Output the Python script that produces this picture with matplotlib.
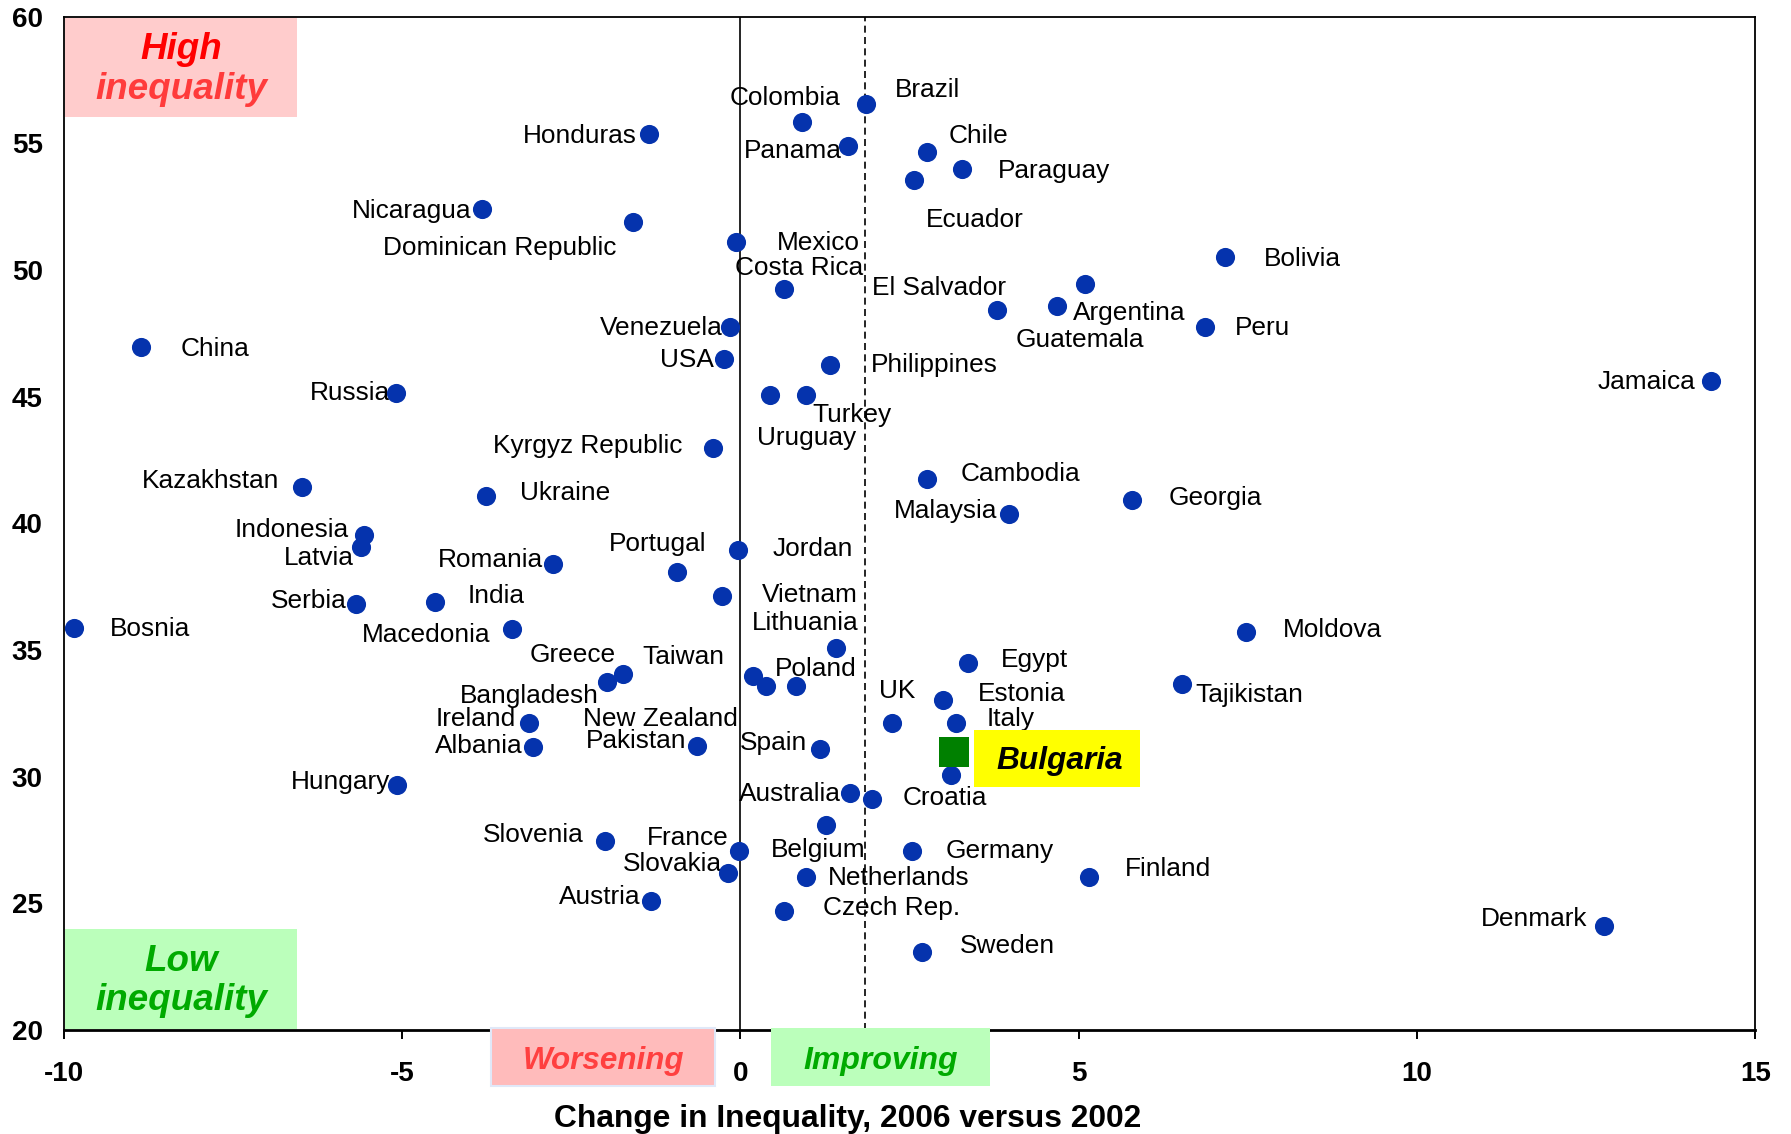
import matplotlib
matplotlib.use("Agg")
import matplotlib.pyplot as plt
import matplotlib.transforms as mtransforms
from matplotlib.patches import Rectangle

# ---------------- data ----------------
countries = [
    "Colombia", "Brazil", "Honduras", "Panama", "Chile", "Paraguay", "Ecuador",
    "Nicaragua", "Dominican Republic", "Mexico", "Bolivia", "Costa Rica",
    "Guatemala", "Argentina", "El Salvador", "Peru", "Venezuela", "China", "USA",
    "Philippines", "Jamaica", "Russia", "Uruguay", "Turkey", "Kyrgyz Republic",
    "Cambodia", "Kazakhstan", "Ukraine", "Georgia", "Malaysia", "Indonesia",
    "Latvia", "Jordan", "Romania", "Portugal", "Vietnam", "India", "Serbia",
    "Bosnia", "Macedonia", "Moldova", "Lithuania", "Egypt", "Greece",
    "Bangladesh", "Taiwan", "New Zealand", "Poland", "Tajikistan", "Estonia",
    "UK", "Italy", "Ireland", "Albania", "Pakistan", "Spain", "Bulgaria",
    "Hungary", "Australia", "Croatia", "Belgium", "Slovenia", "France",
    "Germany", "Slovakia", "Netherlands", "Finland", "Austria", "Czech Rep.",
    "Denmark", "Sweden",
]
change = [
    0.91, 1.85, -1.35, 1.59, 2.76, 3.27, 2.56,
    -3.82, -1.59, -0.06, 7.16, 0.65,
    5.09, 4.68, 3.80, 6.86, -0.15, -8.86, -0.24,
    1.32, 14.34, -5.09, 0.44, 0.97, -0.41,
    2.76, -6.48, -3.76, 5.79, 3.97, -5.56,
    -5.60, -0.03, -2.77, -0.94, -0.27, -4.51, -5.68,
    -9.84, -3.37, 7.47, 1.41, 3.36, -1.74,
    -1.97, 0.18, 0.38, 0.82, 6.53, 3.00,
    2.24, 3.18, -3.12, -3.06, -0.64, 1.18, 3.12,
    -5.07, 1.62, 1.94, 1.27, -2.00, -0.02,
    2.53, -0.18, 0.97, 5.15, -1.32, 0.65,
    12.77, 2.68,
]
gini = [
    55.84, 56.55, 55.37, 54.89, 54.67, 53.97, 53.55,
    52.39, 51.90, 51.12, 50.51, 49.24,
    49.44, 48.57, 48.42, 47.76, 47.76, 46.96, 46.49,
    46.26, 45.61, 45.15, 45.08, 45.08, 42.96,
    41.76, 41.45, 41.08, 40.90, 40.36, 39.53,
    39.07, 38.95, 38.39, 38.08, 37.12, 36.89, 36.82,
    35.88, 35.81, 35.71, 35.09, 34.47, 34.06,
    33.74, 33.98, 33.58, 33.59, 33.65, 33.03,
    32.11, 32.11, 32.11, 31.16, 31.22, 31.08, 30.06,
    29.67, 29.34, 29.12, 28.10, 27.46, 27.08,
    27.07, 26.20, 26.05, 26.04, 25.10, 24.71,
    24.09, 23.07,
]
highlight_name = "Bulgaria"
highlight_change = [3.16]
highlight_gini = [30.98]
average_change = 1.84
x_ticks = [-10, -5, 0, 5, 10, 15]
y_ticks = [20, 25, 30, 35, 40, 45, 50, 55, 60]
x_title = "Change in Inequality, 2006 versus 2002"

# ---------------- layout (label offsets in pixels: ha, dx, dy-down) ----------------
LABEL_LAYOUT = {
    "Colombia": ("center", -17.3, -27), "Brazil": ("left", 29.3, -17.3),
    "Honduras": ("right", -12, -0.7), "Panama": ("right", -6.3, 2.3),
    "Chile": ("left", 21.3, -18.5), "Paraguay": ("left", 36.7, -1.1),
    "Ecuador": ("left", 12.8, 37.5), "Nicaragua": ("right", -10, -1.4),
    "Dominican Republic": ("right", -16.3, 23.3), "Mexico": ("left", 40.3, -1.7),
    "Bolivia": ("left", 38.9, -1), "Costa Rica": ("center", 14.8, -23.6),
    "Guatemala": ("center", -4.9, 53.3), "Argentina": ("left", 16.3, 3.7),
    "El Salvador": ("right", 8.9, -25), "Peru": ("left", 30.8, -1.1),
    "Venezuela": ("right", -7.6, -1.7), "China": ("left", 40.2, -1.1),
    "USA": ("right", -10.3, -1.3), "Philippines": ("left", 41, -3),
    "Jamaica": ("right", -15.7, -1.9), "Russia": ("right", -5.7, -2.6),
    "Uruguay": ("left", -13.3, 40.3), "Turkey": ("left", 6.7, 18),
    "Kyrgyz Republic": ("right", -30.6, -5), "Cambodia": ("left", 33.7, -7.4),
    "Kazakhstan": ("right", -23, -8.1), "Ukraine": ("left", 34, -5.3),
    "Georgia": ("left", 36.6, -4.9), "Malaysia": ("right", -11.6, -6.2),
    "Indonesia": ("right", -15, -8.1), "Latvia": ("right", -7.5, 8.2),
    "Jordan": ("left", 34.4, -3.3), "Romania": ("right", -9.7, -6.7),
    "Portugal": ("center", -19.4, -30.3), "Vietnam": ("left", 39.4, -3.6),
    "India": ("left", 32.8, -8.4), "Serbia": ("right", -9.7, -5.5),
    "Bosnia": ("left", 35.6, -1.8), "Macedonia": ("right", -21.8, 2.6),
    "Moldova": ("left", 37.2, -4.4), "Lithuania": ("center", -30.8, -27.7),
    "Egypt": ("left", 32.7, -6.6), "Greece": ("right", -6.7, -22),
    "Bangladesh": ("right", -8.7, 11.3), "Taiwan": ("right", -28, -21.7),
    "New Zealand": ("right", -28.6, 30), "Poland": ("center", 19.5, -19.7),
    "Tajikistan": ("left", 13.3, 8.4), "Estonia": ("left", 34.4, -8.3),
    "UK": ("center", 5, -35), "Italy": ("left", 31.4, -6.6),
    "Ireland": ("right", -13, -7.1), "Albania": ("right", -10.2, -3.7),
    "Pakistan": ("right", -10.7, -7.4), "Spain": ("right", -12.7, -8.6),
    "Hungary": ("right", -6.8, -5.5), "Australia": ("right", -9, -2.6),
    "Croatia": ("left", 31, -4), "Belgium": ("center", -8, 22),
    "Slovenia": ("right", -21, -9.3), "France": ("right", -10.4, -15.7),
    "Germany": ("left", 34.3, -2.4), "Slovakia": ("right", -6.6, -11.3),
    "Netherlands": ("left", 22.3, -1.7), "Finland": ("left", 36, -10.3),
    "Austria": ("right", -10.7, -6.4), "Czech Rep.": ("left", 38.7, -5.7),
    "Denmark": ("right", -17.5, -10.6), "Sweden": ("left", 37.7, -8.8),
}
TEXT_SHIFT = 2.8  # px: matplotlib 'center' sits slightly higher than visual centre

W, H, DPI = 1791, 1134, 100
PX = 72.0 / DPI  # pixels -> points

plt.rcParams["font.family"] = ["Liberation Sans", "DejaVu Sans"]

fig = plt.figure(figsize=(W / DPI, H / DPI), dpi=DPI)
fig.patch.set_facecolor("white")
x0, x1, ytop, ybot = 63.6, 1755.4, 16.6, 1030.0
ax = fig.add_axes([x0 / W, 1 - ybot / H, (x1 - x0) / W, (ybot - ytop) / H])
ax.set_xlim(x_ticks[0], x_ticks[-1])
ax.set_ylim(y_ticks[0], y_ticks[-1])
ax.set_xticks(x_ticks)
ax.set_yticks(y_ticks)
ax.set_xticklabels([str(t) for t in x_ticks], fontsize=20, fontweight="bold")
ax.set_yticklabels([str(t) for t in y_ticks], fontsize=20, fontweight="bold")
ax.tick_params(axis="y", length=0, pad=15)
ax.tick_params(axis="x", length=6.5, width=1.4, direction="out", pad=16)
for side in ("top", "left", "right"):
    ax.spines[side].set_linewidth(1.3)
ax.spines["bottom"].set_linewidth(2.0)

# reference lines
ax.axvline(0, color="black", lw=1.2, zorder=1)
ax.axvline(average_change, color="black", lw=1.2, linestyle=(0, (4.2, 2.6)), zorder=1)

# points
ax.scatter(change, gini, s=190, c="#0533AD", linewidths=0, zorder=4)

for name, x, y in zip(countries, change, gini):
    if name not in LABEL_LAYOUT:
        continue
    ha, dx, dy = LABEL_LAYOUT[name]
    ax.annotate(name, (x, y), xytext=(dx * PX, -(dy + TEXT_SHIFT) * PX),
                textcoords="offset points", ha=ha, va="center", fontsize=18.9,
                color="black", zorder=3)

# highlighted country
ax.scatter(highlight_change, highlight_gini, marker="s", s=(30 * PX) ** 2,
           c="#008000", linewidths=0, zorder=5)
hx, hy = highlight_change[0], highlight_gini[0]
trans = mtransforms.Affine2D().scale(DPI / 72.0) + mtransforms.ScaledTranslation(hx, hy, ax.transData)
ax.add_patch(Rectangle((20 * PX, -35 * PX), 166 * PX, 56.7 * PX, transform=trans,
                       facecolor="#FFFF00", edgecolor="none", zorder=5, clip_on=False))
ax.annotate(highlight_name, (hx, hy), xytext=(105.3 * PX, -(6.3 + 3.2) * PX),
            textcoords="offset points", ha="center", va="center", fontsize=22.8,
            fontweight="bold", fontstyle="italic", color="black", zorder=6)

# quadrant boxes
def ax_y(py):
    return (ybot - py) / (ybot - ytop)

def ax_x(px):
    return (px - x0) / (x1 - x0)

def box(px0, px1, py0, py1, face, edge="none", z=0.5):
    ax.add_patch(Rectangle((ax_x(px0), ax_y(py1)), ax_x(px1) - ax_x(px0), ax_y(py0) - ax_y(py1),
                           transform=ax.transAxes, facecolor=face, edgecolor=edge, lw=1.5,
                           zorder=z, clip_on=False))

def box_text(px, py, s, size, color, z=1):
    ax.text(ax_x(px), ax_y(py), s, transform=ax.transAxes, ha="center", va="center",
            fontsize=size, fontweight="bold", fontstyle="italic", color=color, zorder=z)

box(65, 297, 17.5, 116.5, "#FFCCCC")
box_text(181, 49.5, "High", 26.5, "#FF0000")
box_text(181, 89.5, "inequality", 26.5, "#FF3B3B")

box(65, 297, 928.6, 1028.5, "#BBFFBB")
box_text(181, 961.5, "Low", 26.5, "#00AA00")
box_text(181, 1000, "inequality", 26.5, "#00AA00")

box(491, 715, 1028, 1086, "#FFBBBB", edge="#E0E8F8", z=6)
box_text(603, 1060.5, "Worsening", 22.6, "#FF4040", z=7)
box(771, 990, 1028, 1086, "#BBFFBB", z=6)
box_text(880.5, 1060.5, "Improving", 23, "#00AA00", z=7)

fig.text(848 / W, 1 - 1118.5 / H, x_title, ha="center", va="center",
         fontsize=22.9, fontweight="bold")

fig.savefig("out.png", dpi=DPI, facecolor="white")
